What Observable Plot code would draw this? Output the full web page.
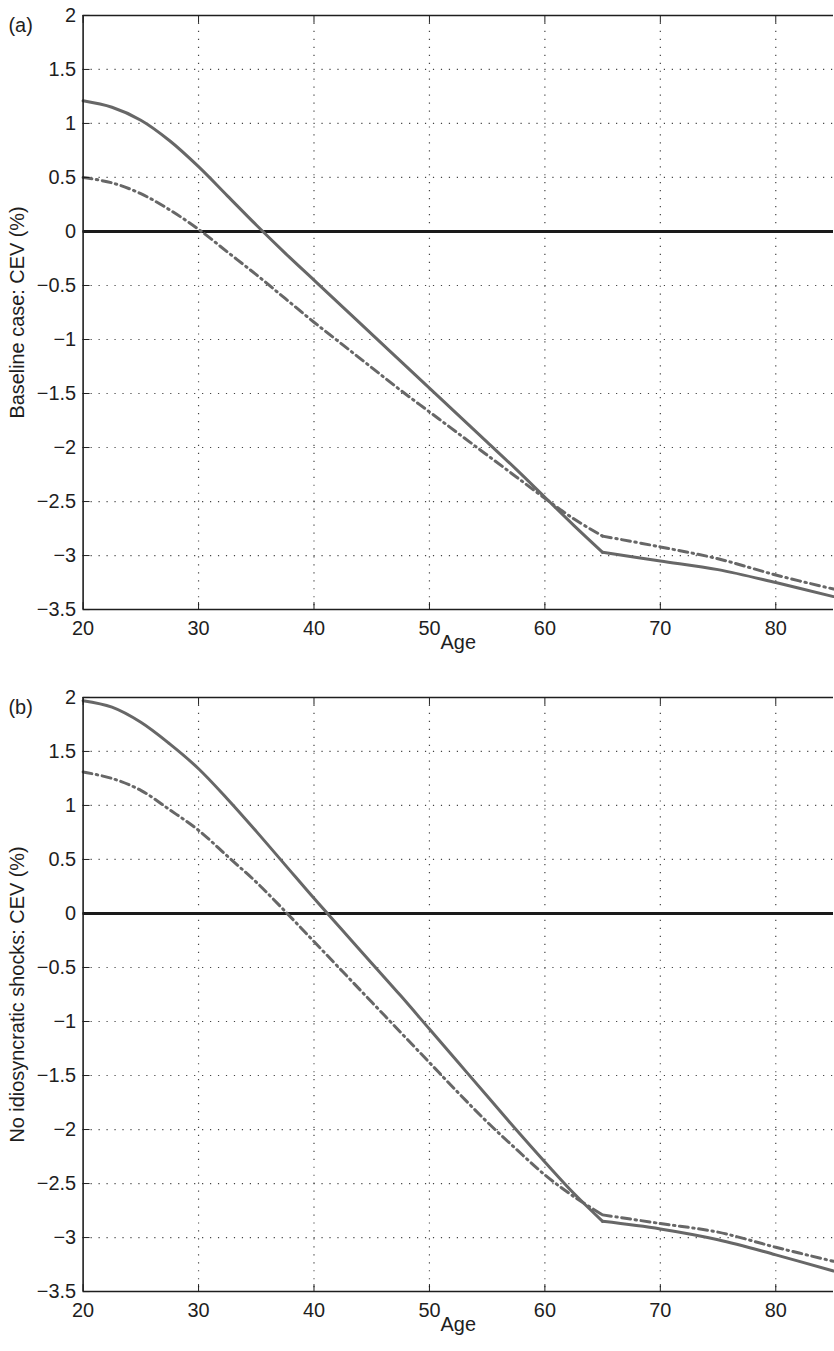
<!DOCTYPE html>
<html>
<head>
<meta charset="utf-8">
<script src="https://cdn.jsdelivr.net/npm/d3@7"></script>
<script src="https://cdn.jsdelivr.net/npm/@observablehq/plot@0.6"></script>
<style>
  html, body { margin: 0; padding: 0; background: #fff; overflow: hidden; }
  #chart svg { display: block; font-size: 20px; }
</style>
</head>
<body>
<div id="chart"></div>
<script>
// Age grid used for all series
const ages = [20,22.5,25,27.5,30,32.5,35,37.5,40,42.5,45,47.5,50,52.5,55,57.5,60,62.5,65,70,75,80,85];

// Panel (a): Baseline case
const baseSolid = [1.21,1.15,1.03,0.84,0.60,0.33,0.06,-0.20,-0.45,-0.70,-0.95,-1.20,-1.45,-1.70,-1.95,-2.20,-2.46,-2.72,-2.97,-3.05,-3.13,-3.25,-3.38];
const baseDashDot = [0.50,0.45,0.35,0.20,0.02,-0.19,-0.40,-0.62,-0.84,-1.05,-1.26,-1.47,-1.67,-1.87,-2.07,-2.27,-2.47,-2.66,-2.82,-2.92,-3.03,-3.18,-3.31];

// Panel (b): No idiosyncratic shocks
const noShockSolid = [1.97,1.91,1.77,1.57,1.34,1.06,0.76,0.45,0.14,-0.16,-0.46,-0.76,-1.07,-1.38,-1.69,-2.00,-2.30,-2.59,-2.85,-2.92,-3.02,-3.16,-3.31];
const noShockDashDot = [1.31,1.25,1.14,0.96,0.77,0.53,0.29,0.02,-0.26,-0.54,-0.82,-1.10,-1.38,-1.66,-1.93,-2.18,-2.42,-2.62,-2.79,-2.87,-2.95,-3.09,-3.22];

// Axis ticks and grid
const xTicks = [20,30,40,50,60,70,80];
const xGrid = [30,40,50,60,70,80];
const yTicks = [-3.5,-3,-2.5,-2,-1.5,-1,-0.5,0,0.5,1,1.5,2];
const yGrid = [-3,-2.5,-2,-1.5,-1,-0.5,0.5,1,1.5];
const xDomain = [20, 85];
const yDomain = [-3.5, 2];
const kinkAge = 65;

const panels = [
  {tag: "(a)", ylabel: "Baseline case: CEV (%)", solid: baseSolid, dash: baseDashDot, height: 685, marginBottom: 73},
  {tag: "(b)", ylabel: "No idiosyncratic shocks: CEV (%)", solid: noShockSolid, dash: noShockDashDot, height: 666, marginBottom: 54}
];

const lineColor = "#676767";
const axisColor = "#1e1e1e";
const fs = 20;
const gridStyle = {stroke: "#444", strokeOpacity: 1, strokeWidth: 1.2, strokeDasharray: "1.2,6.8"};
const fmt = v => (v < 0 ? "\u2212" : "") + String(Math.abs(v));
const pre = (d, i) => ages[i] <= kinkAge;
const post = (d, i) => ages[i] >= kinkAge;

const chart = document.getElementById("chart");
for (const p of panels) {
  const dashOpts = {x: ages, curve: "catmull-rom", stroke: lineColor, strokeWidth: 3, strokeDasharray: "9,4.5,1.5,4.5"};
  const solidOpts = {x: ages, curve: "catmull-rom", stroke: lineColor, strokeWidth: 3};
  const svg = Plot.plot({
    width: 838,
    height: p.height,
    marginLeft: 83,
    marginRight: 1,
    marginTop: 15,
    marginBottom: p.marginBottom,
    x: {domain: xDomain},
    y: {domain: yDomain},
    style: {fontFamily: "'Liberation Sans', Arial, Helvetica, sans-serif", fontSize: fs + "px", color: axisColor, background: "#fff", overflow: "visible"},
    marks: [
      Plot.gridX(xGrid, gridStyle),
      Plot.gridY(yGrid, gridStyle),
      Plot.ruleY([0], {stroke: "#1a1a1a", strokeWidth: 3.2}),
      Plot.lineY(p.dash, {...dashOpts, filter: pre}),
      Plot.lineY(p.dash, {...dashOpts, filter: post}),
      Plot.lineY(p.solid, {...solidOpts, filter: pre}),
      Plot.lineY(p.solid, {...solidOpts, filter: post}),
      // box
      Plot.ruleX([xDomain[0]], {stroke: axisColor, strokeWidth: 1.6}),
      Plot.ruleY(yDomain, {stroke: axisColor, strokeWidth: 1.6}),
      // inward ticks
      Plot.axisY(yTicks, {anchor: "left", tickSize: 7, dx: 7, tickFormat: () => "", label: null, stroke: axisColor}),
      Plot.axisX(xTicks, {anchor: "bottom", tickSize: 7, dy: -7, tickFormat: () => "", label: null, stroke: axisColor}),
      Plot.axisX(xTicks, {anchor: "top", tickSize: 7, dy: 7, tickFormat: () => "", label: null, stroke: axisColor}),
      // tick labels
      Plot.axisY(yTicks, {anchor: "left", tickSize: 0, tickPadding: 7, label: null, fontSize: fs, tickFormat: fmt}),
      Plot.axisX(xTicks, {anchor: "bottom", tickSize: 0, tickPadding: 11, label: null, fontSize: fs, tickFormat: fmt}),
      // titles
      Plot.text([p.ylabel], {frameAnchor: "left", rotate: -90, dx: -66, textAnchor: "middle", lineAnchor: "middle", text: d => d, fontSize: fs, fill: axisColor}),
      Plot.text(["Age"], {frameAnchor: "bottom", dy: 40, text: d => d, fontSize: fs, fill: axisColor}),
      Plot.text([p.tag], {frameAnchor: "top-left", dx: -75, dy: 2, textAnchor: "start", text: d => d, fontSize: fs, fill: axisColor})
    ]
  });
  chart.appendChild(svg);
}
</script>
</body>
</html>
